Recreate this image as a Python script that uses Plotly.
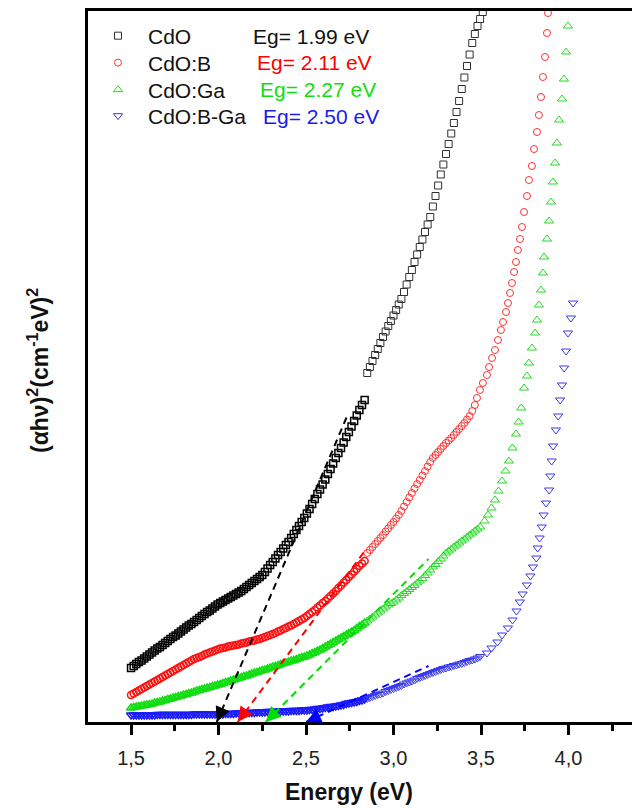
import plotly.graph_objects as go

# ---------------- data ----------------
SERIES_NAMES = ["CdO", "CdO:B", "CdO:Ga", "CdO:B-Ga"]
EG_VALUES = [1.99, 2.11, 2.27, 2.50]
EG_LABELS = ["Eg= 1.99 eV", "Eg= 2.11 eV", "Eg= 2.27 eV", "Eg= 2.50 eV"]
# upper end of each linear (tangent) fit line: energy, (ahv)^2 in a.u.
FIT_END_X = [2.74, 2.84, 3.20, 3.20]
FIT_END_Y = [308, 172, 163, 56]

# (energy eV, (alpha h nu)^2 a.u.) -- first detector range (< 2.84 eV)
cdo_low = [
    (1.500, 54), (1.515, 56), (1.530, 58), (1.545, 60), (1.560, 61.5), (1.575, 63.5), (1.590, 65.5),
    (1.605, 67.5), (1.620, 69.5), (1.635, 71.5), (1.650, 73.5), (1.665, 75), (1.680, 77), (1.695, 79),
    (1.710, 81), (1.725, 83), (1.740, 85), (1.755, 86.5), (1.770, 88.5), (1.785, 90.5), (1.800, 92.5),
    (1.815, 94.5), (1.830, 96.5), (1.845, 98), (1.860, 100), (1.875, 102), (1.890, 104), (1.905, 106),
    (1.920, 108), (1.935, 110), (1.950, 111.5), (1.965, 113.5), (1.980, 115.5), (1.995, 117.5),
    (2.010, 119), (2.025, 120.5), (2.040, 122), (2.055, 123.5), (2.070, 125), (2.085, 126.5),
    (2.100, 128), (2.115, 129.5), (2.130, 131), (2.145, 133), (2.160, 135), (2.175, 137), (2.190, 139),
    (2.205, 141), (2.220, 143), (2.235, 145), (2.250, 147), (2.265, 150), (2.280, 153.5), (2.295, 157),
    (2.310, 160), (2.325, 163.5), (2.340, 167), (2.355, 170), (2.370, 173.5), (2.385, 177), (2.400, 180),
    (2.415, 184), (2.430, 188), (2.445, 192), (2.460, 196), (2.475, 200), (2.490, 204), (2.505, 208.5),
    (2.520, 213), (2.535, 218), (2.550, 223), (2.565, 228), (2.580, 232.5), (2.595, 237.5), (2.610, 242.5),
    (2.625, 248), (2.640, 253), (2.655, 258.5), (2.670, 264), (2.685, 269), (2.700, 274), (2.715, 279.5),
    (2.730, 285), (2.745, 290), (2.760, 295.5), (2.775, 301), (2.790, 306.5), (2.805, 312), (2.820, 317),
    (2.835, 322),
]
# second detector range (>= 2.85 eV)
cdo_high = [
    (2.850, 349), (2.865, 355), (2.880, 361), (2.895, 367), (2.910, 373), (2.925, 379), (2.940, 385),
    (2.955, 390.5), (2.970, 396), (2.985, 401), (3.000, 406.5), (3.015, 412), (3.030, 417.5), (3.045, 423),
    (3.060, 430), (3.075, 437.5), (3.090, 445), (3.105, 452), (3.120, 460), (3.135, 467.5), (3.150, 475),
    (3.165, 482.5), (3.180, 490), (3.195, 497.5), (3.210, 505), (3.225, 515.5), (3.240, 526), (3.255, 536.5),
    (3.270, 547.5), (3.285, 557.5), (3.300, 568), (3.315, 578), (3.330, 588.5), (3.345, 599), (3.360, 610),
    (3.375, 621), (3.390, 633), (3.405, 644.5), (3.420, 656), (3.435, 667.5), (3.450, 679), (3.465, 688),
    (3.480, 696), (3.495, 703), (3.510, 710),
]

cdob_low = [
    (1.500, 27), (1.515, 28.5), (1.530, 30), (1.545, 31.5), (1.560, 33), (1.575, 34.5), (1.590, 36),
    (1.605, 37.5), (1.620, 39), (1.635, 40.5), (1.650, 42), (1.665, 43.5), (1.680, 45), (1.695, 46.5),
    (1.710, 48), (1.725, 49.5), (1.740, 51), (1.755, 52.5), (1.770, 54), (1.785, 55.5), (1.800, 57),
    (1.815, 58.5), (1.830, 60), (1.845, 61.5), (1.860, 63), (1.875, 64), (1.890, 65), (1.905, 66),
    (1.920, 67.5), (1.935, 68.5), (1.950, 69.5), (1.965, 70.5), (1.980, 71.5), (1.995, 72.5), (2.010, 73.5),
    (2.025, 74), (2.040, 74.5), (2.055, 75.5), (2.070, 76), (2.085, 76.5), (2.100, 77), (2.115, 77.5),
    (2.130, 78.5), (2.145, 79), (2.160, 79.5), (2.175, 80.5), (2.190, 81), (2.205, 81.5), (2.220, 82.5),
    (2.235, 83), (2.250, 84), (2.265, 85), (2.280, 86), (2.295, 87), (2.310, 88), (2.325, 89),
    (2.340, 90.5), (2.355, 91.5), (2.370, 93), (2.385, 94), (2.400, 95.5), (2.415, 96.5), (2.430, 98),
    (2.445, 99.5), (2.460, 101), (2.475, 102.5), (2.490, 104), (2.505, 106), (2.520, 108), (2.535, 110),
    (2.550, 112), (2.565, 114.5), (2.580, 116.5), (2.595, 119), (2.610, 121), (2.625, 123.5), (2.640, 126),
    (2.655, 128.5), (2.670, 131), (2.685, 134), (2.700, 136.5), (2.715, 139.5), (2.730, 142), (2.745, 145),
    (2.760, 147.5), (2.775, 150.5), (2.790, 153), (2.805, 156), (2.820, 158.5), (2.835, 161),
]
cdob_high = [
    (2.850, 169), (2.865, 172), (2.880, 175), (2.895, 178), (2.910, 181), (2.925, 184), (2.940, 187),
    (2.955, 190.5), (2.970, 193.5), (2.985, 197), (3.000, 200), (3.015, 203.5), (3.030, 207), (3.045, 211),
    (3.060, 215.5), (3.075, 220), (3.090, 224.5), (3.105, 229), (3.120, 233.5), (3.135, 238), (3.150, 242),
    (3.165, 246.5), (3.180, 251), (3.195, 255.5), (3.210, 260), (3.225, 264), (3.240, 267), (3.255, 270),
    (3.270, 273), (3.285, 276), (3.300, 279), (3.315, 281.5), (3.330, 284), (3.345, 287), (3.360, 290),
    (3.375, 293), (3.390, 296), (3.405, 299), (3.420, 302.5), (3.435, 306), (3.450, 311), (3.465, 317),
    (3.477, 324), (3.494, 332), (3.511, 339), (3.534, 347), (3.546, 355), (3.563, 364), (3.580, 372),
    (3.597, 382), (3.614, 392), (3.626, 400), (3.643, 410), (3.654, 419), (3.666, 429), (3.677, 439),
    (3.689, 450), (3.700, 460), (3.711, 472), (3.723, 483), (3.734, 495), (3.746, 510), (3.763, 526),
    (3.774, 542), (3.791, 556), (3.803, 573), (3.820, 590), (3.831, 607), (3.843, 625), (3.854, 645),
    (3.866, 665), (3.877, 689), (3.883, 709),
]

cdoga_low = [
    (1.500, 14), (1.515, 14.5), (1.530, 15), (1.545, 15.5), (1.560, 16), (1.575, 16.5), (1.590, 17),
    (1.605, 17.5), (1.620, 18), (1.635, 19), (1.650, 19.5), (1.665, 20), (1.680, 21), (1.695, 21.5),
    (1.710, 22.5), (1.725, 23), (1.740, 24), (1.755, 24.5), (1.770, 25.5), (1.785, 26), (1.800, 27),
    (1.815, 27.5), (1.830, 28.5), (1.845, 29), (1.860, 30), (1.875, 31), (1.890, 31.5), (1.905, 32.5),
    (1.920, 33), (1.935, 34), (1.950, 34.5), (1.965, 35.5), (1.980, 36), (1.995, 37), (2.010, 37.5),
    (2.025, 38.5), (2.040, 39.5), (2.055, 40), (2.070, 41), (2.085, 42), (2.100, 43), (2.115, 43.5),
    (2.130, 44.5), (2.145, 45.5), (2.160, 46), (2.175, 47), (2.190, 48), (2.205, 49), (2.220, 49.5),
    (2.235, 50.5), (2.250, 51.5), (2.265, 52), (2.280, 53), (2.295, 54), (2.310, 55), (2.325, 55.5),
    (2.340, 56.5), (2.355, 57.5), (2.370, 58.5), (2.385, 59), (2.400, 60), (2.415, 61), (2.430, 61.5),
    (2.445, 62.5), (2.460, 63.5), (2.475, 64.5), (2.490, 65), (2.505, 66), (2.520, 67), (2.535, 68.5),
    (2.550, 69.5), (2.565, 71), (2.580, 72), (2.595, 73.5), (2.610, 75), (2.625, 76.5), (2.640, 78),
    (2.655, 79.5), (2.670, 81), (2.685, 82.5), (2.700, 84), (2.715, 85.5), (2.730, 87), (2.745, 88.5),
    (2.760, 90), (2.775, 91.5), (2.790, 93.5), (2.805, 95.5), (2.820, 97), (2.835, 99),
]
cdoga_high = [
    (2.850, 101),
    (2.865, 103), (2.880, 105), (2.895, 107), (2.910, 109), (2.925, 111), (2.940, 113), (2.955, 115),
    (2.970, 117), (2.985, 118.5), (3.000, 120), (3.015, 122), (3.030, 124), (3.045, 126.5), (3.060, 128.5),
    (3.075, 130.5), (3.090, 132.5), (3.105, 134.5), (3.120, 136.5), (3.135, 139), (3.150, 141),
    (3.165, 143.5), (3.180, 146.5), (3.195, 149), (3.210, 152), (3.225, 155), (3.240, 157.5),
    (3.255, 160.5), (3.270, 163), (3.285, 166), (3.300, 169), (3.315, 171), (3.330, 173), (3.345, 175),
    (3.360, 177), (3.375, 179), (3.390, 181), (3.405, 183), (3.420, 185), (3.435, 187), (3.450, 189),
    (3.465, 191), (3.480, 193), (3.495, 195),
    (3.520, 201), (3.540, 207), (3.560, 214), (3.580, 222), (3.600, 231), (3.620, 241), (3.640, 251),
    (3.660, 261), (3.680, 274), (3.700, 288), (3.715, 300), (3.730, 314), (3.746, 334), (3.763, 346),
    (3.774, 359), (3.791, 374), (3.809, 389), (3.820, 402), (3.831, 417), (3.843, 432), (3.854, 449),
    (3.860, 465), (3.877, 483), (3.889, 501), (3.900, 520), (3.911, 540), (3.923, 559), (3.934, 579),
    (3.946, 602), (3.963, 623), (3.974, 643), (3.986, 670), (3.997, 696),
]

cdobga_low = [
    (1.500, 7), (1.515, 7), (1.530, 7), (1.545, 7), (1.560, 7), (1.575, 7), (1.590, 7), (1.605, 7),
    (1.620, 7), (1.635, 7), (1.650, 7.5), (1.665, 7.5), (1.680, 7.5), (1.695, 7.5), (1.710, 7.5),
    (1.725, 7.5), (1.740, 7.5), (1.755, 7.5), (1.770, 7.5), (1.785, 7.5), (1.800, 7.5), (1.815, 7.5),
    (1.830, 7.5), (1.845, 7.5), (1.860, 8), (1.875, 8), (1.890, 8), (1.905, 8), (1.920, 8), (1.935, 8),
    (1.950, 8), (1.965, 8), (1.980, 8), (1.995, 8), (2.010, 8), (2.025, 8), (2.040, 8.5), (2.055, 8.5),
    (2.070, 8.5), (2.085, 8.5), (2.100, 9), (2.115, 9), (2.130, 9), (2.145, 9), (2.160, 9.5),
    (2.175, 9.5), (2.190, 9.5), (2.205, 9.5), (2.220, 10), (2.235, 10), (2.250, 10), (2.265, 10),
    (2.280, 10.5), (2.295, 10.5), (2.310, 10.5), (2.325, 10.5), (2.340, 11), (2.355, 11), (2.370, 11),
    (2.385, 11), (2.400, 11), (2.415, 11.5), (2.430, 11.5), (2.445, 11.5), (2.460, 11.5), (2.475, 12),
    (2.490, 12), (2.505, 12), (2.520, 12.5), (2.535, 12.5), (2.550, 13), (2.565, 13.5), (2.580, 13.5),
    (2.595, 14), (2.610, 14.5), (2.625, 15), (2.640, 15.5), (2.655, 15.5), (2.670, 16), (2.685, 16.5),
    (2.700, 17), (2.715, 17.5), (2.730, 18.5), (2.745, 19), (2.760, 19.5), (2.775, 20), (2.790, 20.5),
    (2.805, 21.5), (2.820, 22), (2.835, 23),
]
cdobga_high = [
    (2.850, 23.5), (2.865, 24.5), (2.880, 25.5), (2.895, 26.5),
    (2.910, 27.5), (2.925, 28), (2.940, 29), (2.955, 30.5), (2.970, 31.5), (2.985, 32.5), (3.000, 33.5),
    (3.015, 34.5), (3.030, 35.5), (3.045, 36.5), (3.060, 38), (3.075, 39), (3.090, 40), (3.105, 41),
    (3.120, 42), (3.135, 43.5), (3.150, 44.5), (3.165, 45.5), (3.180, 46.5), (3.195, 47.5), (3.210, 48.5),
    (3.225, 49.5), (3.240, 50.5), (3.255, 51.5), (3.270, 52.5), (3.285, 53.5), (3.300, 54), (3.315, 55),
    (3.330, 55.5), (3.345, 56.5), (3.360, 57), (3.375, 58), (3.390, 58.5), (3.405, 59.5), (3.420, 60.5),
    (3.435, 61.5), (3.450, 62), (3.465, 63), (3.480, 64), (3.495, 65.5),
    (3.534, 69), (3.560, 74), (3.594, 80), (3.620, 87), (3.654, 94), (3.680, 102), (3.703, 111),
    (3.722, 120), (3.738, 128), (3.762, 137), (3.782, 146), (3.797, 155), (3.816, 164), (3.824, 174),
    (3.835, 184), (3.847, 195), (3.858, 207), (3.872, 219), (3.889, 232), (3.896, 246), (3.904, 261),
    (3.912, 276), (3.928, 292), (3.941, 306), (3.952, 322), (3.963, 337), (3.975, 354), (3.986, 371),
    (3.997, 389), (4.014, 404), (4.026, 419),
]

SERIES_LOW = [cdo_low, cdob_low, cdoga_low, cdobga_low]
SERIES_HIGH = [cdo_high, cdob_high, cdoga_high, cdobga_high]

# ---------------- style ----------------
FONT = "Liberation Sans, Arial, Helvetica, sans-serif"
MARKER_COLORS = ["#303030", "#ff3030", "#22dd22", "#3a3aee"]
DENSE_COLORS = ["#000000", "#ff1010", "#10dd10", "#1a1aff"]
LINE_COLORS = ["#000000", "#ff0000", "#00dd00", "#0000ff"]
TEXT_COLORS = ["#111111", "#ff0000", "#11dd11", "#1a1aee"]
SYMBOLS = ["square-open", "circle-open", "triangle-up-open", "triangle-down-open"]
SIZES = [7, 7, 8, 8]
LEGENDS = ["legend", "legend2", "legend3", "legend4"]
ROW_Y = [0.9648, 0.9269, 0.8889, 0.8523]
EG_X = [0.300, 0.307, 0.312, 0.318]
ARROW_OFF = [(6.3, -14.7), (9.4, -12.9), (11.3, -11.3), (14.5, -6.6)]

fig = go.Figure()

for i in range(4):
    lo, hi = SERIES_LOW[i], SERIES_HIGH[i]
    fig.add_trace(go.Scatter(
        x=[p[0] for p in lo], y=[p[1] for p in lo],
        mode="markers", name=SERIES_NAMES[i], legend=LEGENDS[i], showlegend=False,
        legendgroup=SERIES_NAMES[i],
        marker=dict(symbol=SYMBOLS[i], size=SIZES[i], color=DENSE_COLORS[i],
                    line=dict(width=1.5, color=DENSE_COLORS[i])),
    ))
    fig.add_trace(go.Scatter(
        x=[p[0] for p in hi], y=[p[1] for p in hi],
        mode="markers", name=SERIES_NAMES[i], legend=LEGENDS[i], showlegend=True,
        legendgroup=SERIES_NAMES[i],
        marker=dict(symbol=SYMBOLS[i], size=SIZES[i], color=MARKER_COLORS[i],
                    line=dict(width=1, color=MARKER_COLORS[i])),
    ))

for i in range(4):
    fig.add_trace(go.Scatter(
        x=[EG_VALUES[i], FIT_END_X[i]], y=[0, FIT_END_Y[i]],
        mode="lines", showlegend=False,
        line=dict(color=LINE_COLORS[i], width=2, dash="7px,5px"),
    ))

annotations = []
for i in range(4):
    annotations.append(dict(
        x=EG_VALUES[i], y=0, xref="x", yref="y", showarrow=True,
        ax=ARROW_OFF[i][0], ay=ARROW_OFF[i][1], arrowhead=2, arrowsize=1.5,
        arrowwidth=2, arrowcolor=LINE_COLORS[i], standoff=0, text="",
    ))
    annotations.append(dict(
        x=EG_X[i], y=ROW_Y[i], xref="paper", yref="paper", xanchor="left", yanchor="middle",
        text=EG_LABELS[i], showarrow=False,
        font=dict(family=FONT, size=21, color=TEXT_COLORS[i]),
    ))

annotations.append(dict(
    x=0.4798, y=-0.0985, xref="paper", yref="paper", xanchor="center", yanchor="middle",
    text="<b>Energy (eV)</b>", showarrow=False, font=dict(family=FONT, size=23, color="#111"),
))
annotations.append(dict(
    x=-0.092, y=0.495, xref="paper", yref="paper", xanchor="center", yanchor="middle",
    text="<b>(αhν)<sup>2</sup>(cm<sup>-1</sup>eV)<sup>2</sup></b>", textangle=-90, showarrow=False,
    font=dict(family=FONT, size=23, color="#111"),
))

layout_legends = {}
for i in range(4):
    layout_legends[LEGENDS[i]] = dict(
        x=0.0, xanchor="left", y=ROW_Y[i], yanchor="middle",
        font=dict(family=FONT, size=21, color="#111"),
        bgcolor="rgba(0,0,0,0)", borderwidth=0, itemwidth=50,
    )

fig.update_layout(
    width=632, height=808,
    margin=dict(l=88, r=0, t=11, b=86),
    paper_bgcolor="white", plot_bgcolor="white",
    separators=",.",
    font=dict(family=FONT, color="#111"),
    annotations=annotations,
    **layout_legends,
)

fig.update_xaxes(
    range=[1.254, 4.363], dtick=0.5, tick0=1.5, tickformat=".1f",
    showline=True, linewidth=3, linecolor="black", mirror=True,
    ticks="outside", ticklen=10, tickwidth=3, tickcolor="black", ticklabelstandoff=6,
    minor=dict(dtick=0.25, tick0=1.25, ticks="outside", ticklen=6, tickwidth=2.5, tickcolor="black"),
    showgrid=False, zeroline=False,
    tickfont=dict(family=FONT, size=20, color="#222"),
)
fig.update_yaxes(
    range=[0, 711], showline=True, linewidth=3, linecolor="black", mirror=False,
    showticklabels=False, ticks="", showgrid=False, zeroline=False,
)

fig.write_html("out.html")
